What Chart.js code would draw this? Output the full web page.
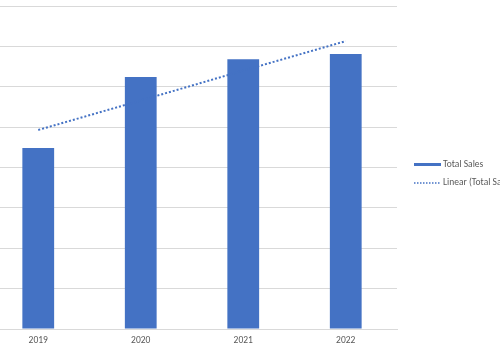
<!DOCTYPE html>
<html lang="en">
<head>
    <meta charset="UTF-8">
    <style>
        html, body { margin: 0; padding: 0; background: #ffffff; overflow: hidden; width: 500px; height: 350px; }
        #wrap { position: absolute; left: -13px; top: 0; }
    </style>
    <title>Total Sales</title>
</head>
<body>
    <div id="wrap">
        <canvas id="myChart" width="600" height="356"></canvas>
    </div>
    <script src="https://cdn.jsdelivr.net/npm/chart.js"></script>
    <script>
        // values (gridline units, 0..8)
        const years = ['2019', '2020', '2021', '2022'];
        const totalSales = [4.48, 6.24, 6.68, 6.81];
        const linearTrend = [4.93, 5.66, 6.40, 7.13];

        const blue = '#4472C4';
        const textGray = '#595959';
        const fontFamily = "Carlito, 'Liberation Sans', Arial, sans-serif";

        // legend drawn by hand so it sits where the original does (and runs off the edge)
        const sideLegend = {
            id: 'sideLegend',
            afterDraw(chart) {
                const c = chart.ctx;
                const x0 = 427, x1 = 454, tx = 456;
                c.save();
                c.fillStyle = blue;
                c.fillRect(x0, 163, x1 - x0, 3);
                c.strokeStyle = blue;
                c.lineWidth = 1.5;
                c.setLineDash([1.5, 1.5]);
                c.beginPath();
                c.moveTo(x0, 183);
                c.lineTo(x1, 183);
                c.stroke();
                c.setLineDash([]);
                c.fillStyle = textGray;
                c.font = '9.5px ' + fontFamily;
                c.textBaseline = 'middle';
                c.fillText(chart.data.datasets[0].label, tx, 165);
                c.fillText(chart.data.datasets[1].label, tx, 183);
                c.restore();
            }
        };

        new Chart(document.getElementById('myChart'), {
            type: 'bar',
            data: {
                labels: years,
                datasets: [
                    {
                        label: 'Total Sales',
                        data: totalSales,
                        backgroundColor: blue,
                        barPercentage: 0.31,
                        categoryPercentage: 1.0,
                        order: 2
                    },
                    {
                        label: 'Linear (Total Sales)',
                        type: 'line',
                        data: linearTrend,
                        borderColor: blue,
                        borderWidth: 2,
                        borderDash: [2, 2],
                        pointRadius: 0,
                        fill: false,
                        tension: 0,
                        order: 1
                    }
                ]
            },
            options: {
                responsive: false,
                animation: false,
                layout: { padding: { top: 6, right: 190, bottom: 3.6, left: 0 } },
                plugins: {
                    legend: { display: false },
                    tooltip: { enabled: false }
                },
                scales: {
                    x: {
                        grid: { display: false, drawTicks: false, tickLength: 0 },
                        border: { display: true, color: '#d9d9d9', width: 1 },
                        ticks: {
                            color: textGray,
                            padding: 6,
                            font: { family: fontFamily, size: 9.5 }
                        }
                    },
                    y: {
                        min: 0,
                        max: 8,
                        ticks: { display: false, stepSize: 1 },
                        grid: { color: '#d9d9d9', drawTicks: false },
                        border: { display: false }
                    }
                }
            },
            plugins: [sideLegend]
        });
    </script>
</body>
</html>
